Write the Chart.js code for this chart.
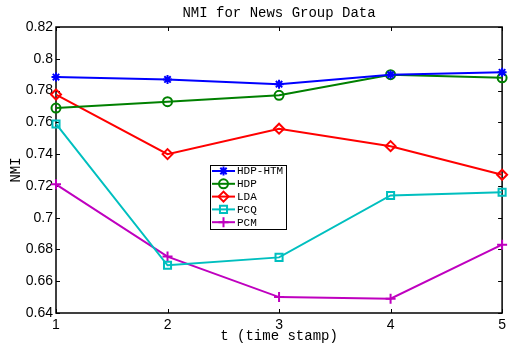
<!DOCTYPE html>
<html>
	<head>
		<meta charset="utf-8">
		<script src="https://cdn.jsdelivr.net/npm/chart.js@4/dist/chart.umd.min.js"></script>
		<title>NMI for News Group Data</title>
		<style>
			html, body { margin: 0; padding: 0; background: #fff; }
			#box { width: 510px; height: 346px; }
		</style>
	</head>
	<body>
		<div id="box"><canvas id="myChart"></canvas></div>
		<script>
			var xLabels = ['1', '2', '3', '4', '5'];
			var hdpHtm = [0.7885, 0.787, 0.784, 0.790, 0.7915];
			var hdp = [0.769, 0.773, 0.777, 0.790, 0.788];
			var lda = [0.7775, 0.740, 0.756, 0.745, 0.727];
			var pcq = [0.759, 0.670, 0.675, 0.714, 0.716];
			var pcm = [0.721, 0.6755, 0.650, 0.649, 0.683];
			var yTicks = [0.64, 0.66, 0.68, 0.70, 0.72, 0.74, 0.76, 0.78, 0.80, 0.82];

			var mono = "'Liberation Mono', 'DejaVu Sans Mono', monospace";

			function line(label, data, color, style, radius) {
				return {
					label: label,
					data: data,
					borderColor: color,
					borderWidth: 2,
					backgroundColor: 'transparent',
					pointStyle: style,
					pointRadius: radius,
					pointBorderWidth: 2,
					pointBorderColor: color,
					pointBackgroundColor: 'transparent',
					tension: 0
				};
			}

			// MATLAB style frame, inward ticks, titles and legend
			var matlabLook = {
				id: 'matlabLook',
				beforeDatasetsDraw: function (chart) {
					var ctx = chart.ctx, a = chart.chartArea;
					var xs = chart.scales.x, ys = chart.scales.y;
					ctx.save();
					ctx.strokeStyle = '#000';
					ctx.lineWidth = 1;
					ctx.beginPath();
					xLabels.forEach(function (l, i) {
						var px = Math.round(xs.getPixelForValue(i)) + 0.5;
						ctx.moveTo(px, a.bottom); ctx.lineTo(px, a.bottom - 4);
						ctx.moveTo(px, a.top); ctx.lineTo(px, a.top + 4);
					});
					yTicks.forEach(function (v) {
						var py = Math.round(ys.getPixelForValue(v)) + 0.5;
						ctx.moveTo(a.left, py); ctx.lineTo(a.left + 4, py);
						ctx.moveTo(a.right, py); ctx.lineTo(a.right - 4, py);
					});
					ctx.stroke();
					ctx.lineWidth = 1.5;
					ctx.strokeRect(a.left, a.top, a.right - a.left, a.bottom - a.top);

					ctx.fillStyle = '#000';
					ctx.font = '14px ' + mono;
					ctx.textAlign = 'center';
					ctx.textBaseline = 'middle';
					var cx = (a.left + a.right) / 2;
					ctx.fillText('NMI for News Group Data', cx, 13);
					ctx.fillText('t (time stamp)', cx, 336);
					ctx.translate(16, 170);
					ctx.rotate(-Math.PI / 2);
					ctx.fillText('NMI', 0, 0);
					ctx.restore();
				},
				afterDraw: function (chart) {
					var ctx = chart.ctx;
					var bx = 210, by = 165, bw = 76, bh = 64;
					ctx.save();
					ctx.fillStyle = '#fff';
					ctx.fillRect(bx, by, bw, bh);
					ctx.strokeStyle = '#000';
					ctx.lineWidth = 1;
					ctx.strokeRect(bx + 0.5, by + 0.5, bw, bh);
					ctx.font = '11px ' + mono;
					ctx.textBaseline = 'middle';
					ctx.textAlign = 'left';
					chart.data.datasets.forEach(function (ds, i) {
						var y = by + 6 + i * 12.8;
						ctx.strokeStyle = ds.borderColor;
						ctx.lineWidth = 2;
						ctx.beginPath();
						ctx.moveTo(212, y); ctx.lineTo(235, y);
						ctx.stroke();
						ctx.fillStyle = 'rgba(0,0,0,0)';
						Chart.helpers.drawPoint(ctx, {
							pointStyle: ds.pointStyle,
							radius: ds.pointRadius,
							borderWidth: 2,
							rotation: 0
						}, 223.5, y);
						ctx.fillStyle = '#000';
						ctx.fillText(ds.label, 237, y + 0.5);
					});
					ctx.restore();
				}
			};

			var chart = new Chart(document.getElementById('myChart'), {
				type: 'line',
				data: {
					labels: xLabels,
					datasets: [
						line('HDP-HTM', hdpHtm, '#0000ff', 'star', 4.5),
						line('HDP', hdp, '#008000', 'circle', 4.5),
						line('LDA', lda, '#ff0000', 'rectRot', 5),
						line('PCQ', pcq, '#00bfbf', 'rect', 5),
						line('PCM', pcm, '#bf00bf', 'cross', 5)
					]
				},
				options: {
					responsive: true,
					maintainAspectRatio: false,
					animation: false,
					layout: { padding: { top: 27, right: 7, left: 0, bottom: 0 } },
					plugins: {
						legend: { display: false },
						title: { display: false },
						tooltip: { enabled: false }
					},
					scales: {
						x: {
							offset: false,
							grid: { display: false, drawTicks: false },
							border: { display: false },
							ticks: {
								color: '#000',
								padding: 4,
								maxRotation: 0,
								font: { family: "'Liberation Sans', Arial, sans-serif", size: 14 }
							},
							afterFit: function (s) { s.height = 33; }
						},
						y: {
							min: 0.64,
							max: 0.82,
							grid: { display: false, drawTicks: false },
							border: { display: false },
							afterBuildTicks: function (s) {
								s.ticks = yTicks.map(function (v) { return { value: v }; });
							},
							ticks: {
								color: '#000',
								padding: 3,
								font: { family: "'Liberation Sans', Arial, sans-serif", size: 14 },
								callback: function (v) { return String(Number(v.toFixed(2))); }
							},
							afterFit: function (s) { s.width = 56; }
						}
					}
				},
				plugins: [matlabLook]
			});
		</script>
	</body>
</html>
